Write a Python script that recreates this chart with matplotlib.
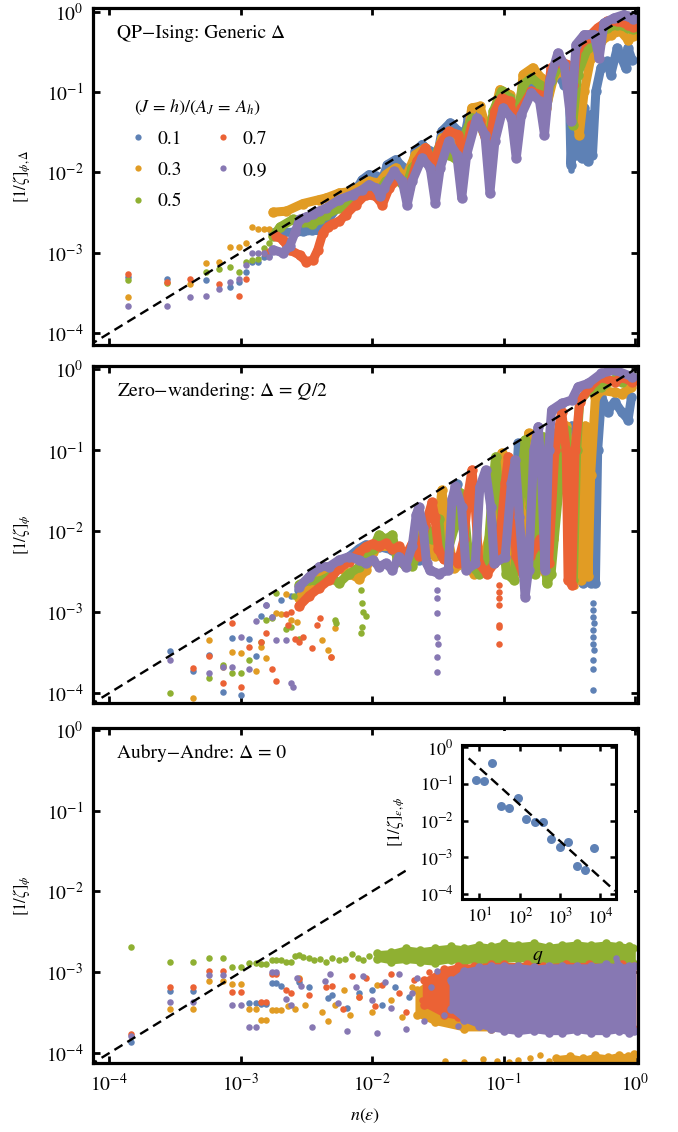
import numpy as np
import matplotlib.pyplot as plt
from matplotlib.lines import Line2D
from matplotlib.patches import Rectangle

plt.rcParams['font.family'] = ['STIXGeneral', 'Liberation Serif', 'DejaVu Sans']
plt.rcParams['mathtext.fontset'] = 'stix'

# Mathematica default palette
c_blue, c_orange, c_green, c_red, c_purple = '#5E81B5', '#E19C24', '#8FB032', '#EB6235', '#8778B3'
colors = [c_blue, c_orange, c_green, c_red, c_purple]
labels = ['0.1', '0.3', '0.5', '0.7', '0.9']

# guide line [1/zeta] = n
guide_n = [7.0e-5, 1.0]

# ---------------- panel 1: QP-Ising, generic Delta ----------------
p1_blue_dots = [(1.4e-4, 5.0e-4), (2.77e-4, 4.7e-4), (5.5e-4, 4.6e-4), (8.3e-4, 3.8e-4), (9.7e-4, 4.3e-4),
                (1.1e-3, 5.7e-4), (1.23e-3, 7.6e-4), (1.36e-3, 7.6e-4), (1.5e-3, 9.0e-4), (1.65e-3, 9.2e-4),
                (0.326, 1.07e-2)]
p1_blue_trace = [(1.77e-3, 1.75e-3), (2.1e-3, 1.8e-3), (2.5e-3, 1.8e-3), (3.0e-3, 1.85e-3), (3.5e-3, 1.9e-3),
                 (3.98e-3, 1.9e-3), (4.47e-3, 2.4e-3), (5.64e-3, 3.98e-3), (7.11e-3, 5.3e-3), (8.45e-3, 8.14e-3),
                 (9.5e-3, 9.4e-3), (1.07e-2, 8.96e-3), (1.16e-2, 7.06e-3), (1.31e-2, 1.25e-2), (1.51e-2, 1.44e-2),
                 (1.75e-2, 1.14e-2), (1.91e-2, 7.76e-3), (2.14e-2, 1.83e-2), (2.4e-2, 2.22e-2), (2.77e-2, 1.83e-2),
                 (3.03e-2, 1.14e-2), (3.4e-2, 3.25e-2), (3.93e-2, 4.13e-2), (4.54e-2, 3.25e-2), (4.81e-2, 1.83e-2),
                 (5.4e-2, 4.76e-2), (6.25e-2, 5.24e-2), (7.22e-2, 4.33e-2), (7.88e-2, 2.02e-2), (8.85e-2, 6.98e-2),
                 (0.102, 7.68e-2), (0.115, 6.34e-2), (0.125, 2.44e-2), (0.141, 9.29e-2), (0.163, 0.112),
                 (0.188, 9.29e-2), (0.205, 4.33e-2), (0.23, 0.136), (0.259, 0.165), (0.29, 0.124), (0.317, 0.102),
                 (0.326, 1.25e-2), (0.342, 6.34e-2), (0.358, 1.67e-2), (0.375, 4.76e-2), (0.393, 1.51e-2),
                 (0.411, 6.34e-2), (0.436, 1.38e-2), (0.461, 5.24e-2), (0.475, 1.67e-2), (0.504, 0.102),
                 (0.55, 0.2), (0.617, 0.241), (0.654, 0.165), (0.734, 0.353), (0.849, 0.2), (0.883, 0.353),
                 (0.95, 0.25)]
p1_orange_dots = [(1.4e-4, 2.8e-4), (4.15e-4, 4.1e-4), (5.5e-4, 7.4e-4), (6.9e-4, 7.6e-4), (8.3e-4, 1.17e-3),
                  (9.7e-4, 1.17e-3), (1.1e-3, 1.34e-3), (1.23e-3, 2.1e-3), (1.36e-3, 1.96e-3), (1.5e-3, 1.96e-3),
                  (1.65e-3, 1.96e-3)]
p1_orange_trace = [(1.77e-3, 3.2e-3), (2.23e-3, 3.3e-3), (2.98e-3, 4.1e-3), (3.98e-3, 4.6e-3), (4.47e-3, 4.82e-3),
                   (5.64e-3, 5.56e-3), (7.11e-3, 5.83e-3), (8.45e-3, 7.06e-3), (9.5e-3, 7.76e-3), (1.13e-2, 7.4e-3),
                   (1.27e-2, 9.4e-3), (1.51e-2, 1.14e-2), (1.8e-2, 8.54e-3), (2.14e-2, 1.67e-2), (2.55e-2, 2.02e-2),
                   (2.94e-2, 1.25e-2), (3.4e-2, 2.68e-2), (4.05e-2, 2.95e-2), (4.54e-2, 2.22e-2), (4.95e-2, 1.25e-2),
                   (5.73e-2, 6.34e-2), (6.62e-2, 6.65e-2), (7.66e-2, 2.95e-2), (8.35e-2, 4.76e-2), (9.38e-2, 0.107),
                   (0.112, 9.29e-2), (0.125, 2.44e-2), (0.141, 0.165), (0.167, 0.2), (0.194, 0.15),
                   (0.211, 6.34e-2), (0.244, 0.165), (0.29, 0.181), (0.336, 7.68e-2), (0.377, 2.95e-2),
                   (0.411, 0.102), (0.461, 0.265), (0.55, 0.428), (0.654, 0.518), (0.778, 0.57), (0.883, 0.449),
                   (0.97, 0.5)]
p1_green_dots = [(1.4e-4, 4.6e-4), (2.77e-4, 4.2e-4), (5.5e-4, 5.7e-4), (6.9e-4, 6.3e-4), (8.3e-4, 6.6e-4),
                 (9.7e-4, 5.7e-4), (1.1e-3, 7.6e-4), (1.23e-3, 8.2e-4), (1.36e-3, 8.3e-4), (1.5e-3, 1.14e-3),
                 (1.65e-3, 1.32e-3)]
p1_green_trace = [(1.77e-3, 1.6e-3), (2.0e-3, 2.1e-3), (2.5e-3, 2.6e-3), (3.0e-3, 2.4e-3), (3.5e-3, 2.3e-3),
                  (4.0e-3, 2.6e-3), (4.47e-3, 2.99e-3), (5.64e-3, 3.61e-3), (7.11e-3, 4.38e-3), (8.45e-3, 5.56e-3),
                  (9.78e-3, 6.41e-3), (1.13e-2, 5.83e-3), (1.27e-2, 7.76e-3), (1.51e-2, 8.54e-3), (1.8e-2, 6.41e-3),
                  (2.02e-2, 1.14e-2), (2.4e-2, 1.51e-2), (2.86e-2, 1.25e-2), (3.21e-2, 2.02e-2), (3.82e-2, 1.67e-2),
                  (4.54e-2, 1.38e-2), (4.95e-2, 2.68e-2), (5.73e-2, 4.76e-2), (6.62e-2, 3.94e-2), (7.66e-2, 2.22e-2),
                  (8.35e-2, 5.77e-2), (9.66e-2, 0.102), (0.112, 8.45e-2), (0.125, 4.76e-2), (0.141, 0.124),
                  (0.163, 0.15), (0.188, 0.124), (0.205, 6.34e-2), (0.23, 0.136), (0.274, 0.241), (0.308, 0.165),
                  (0.336, 3.94e-2), (0.366, 0.165), (0.436, 0.353), (0.519, 0.518), (0.617, 0.627), (0.734, 0.69),
                  (0.883, 0.627), (0.97, 0.6)]
p1_red_dots = [(1.4e-4, 5.4e-4), (2.77e-4, 4.4e-4), (4.15e-4, 4.7e-4), (6.9e-4, 4.1e-4), (9.7e-4, 2.9e-4),
               (1.1e-3, 4.7e-4), (1.5e-3, 1.0e-3), (1.65e-3, 1.05e-3)]
p1_red_trace = [(1.87e-3, 1.62e-3), (2.1e-3, 1.45e-3), (2.36e-3, 1.09e-3), (2.81e-3, 9.4e-4), (3.16e-3, 7.8e-4),
                (3.55e-3, 8.1e-4), (3.87e-3, 1.09e-3), (4.22e-3, 1.75e-3), (4.6e-3, 2.1e-3), (5.02e-3, 2.3e-3),
                (5.64e-3, 2.47e-3), (6.33e-3, 2.99e-3), (7.53e-3, 3.98e-3), (8.96e-3, 5.3e-3), (1.07e-2, 5.05e-3),
                (1.2e-2, 3.98e-3), (1.35e-2, 6.41e-3), (1.6e-2, 8.54e-3), (1.91e-2, 6.41e-3), (2.2e-2, 1.38e-2),
                (2.55e-2, 2.02e-2), (2.94e-2, 1.25e-2), (3.3e-2, 2.22e-2), (3.82e-2, 3.25e-2), (4.54e-2, 2.95e-2),
                (4.95e-2, 1.38e-2), (5.73e-2, 3.94e-2), (6.62e-2, 4.33e-2), (7.66e-2, 2.02e-2), (8.6e-2, 5.77e-2),
                (9.66e-2, 8.45e-2), (0.112, 7.68e-2), (0.125, 2.95e-2), (0.137, 6.34e-2), (0.163, 0.102),
                (0.188, 9.29e-2), (0.205, 4.76e-2), (0.23, 0.2), (0.274, 0.241), (0.308, 0.219), (0.336, 0.124),
                (0.366, 0.353), (0.436, 0.471), (0.519, 0.627), (0.617, 0.759), (0.734, 0.759), (0.883, 0.69),
                (0.97, 0.65)]
p1_purple_dots = [(1.4e-4, 2.2e-4), (2.77e-4, 2.2e-4), (4.15e-4, 2.8e-4), (5.5e-4, 2.9e-4), (6.9e-4, 3.5e-4),
                  (8.3e-4, 4.3e-4), (9.7e-4, 4.7e-4), (1.1e-3, 7.1e-4), (1.23e-3, 1.0e-3), (1.36e-3, 1.0e-3),
                  (1.5e-3, 9.9e-4), (1.65e-3, 9.0e-4)]
p1_purple_trace = [(1.77e-3, 1.09e-3), (2.1e-3, 1.0e-3), (2.36e-3, 1.2e-3), (2.6e-3, 1.8e-3), (2.81e-3, 2.6e-3),
                   (3.16e-3, 2.8e-3), (3.55e-3, 3.0e-3), (3.98e-3, 3.3e-3), (4.47e-3, 3.61e-3), (5.64e-3, 4.59e-3),
                   (7.11e-3, 5.3e-3), (8.45e-3, 6.11e-3), (9.5e-3, 7.06e-3), (1.07e-2, 6.41e-3), (1.16e-2, 5.05e-3),
                   (1.23e-2, 6.41e-3), (1.47e-2, 1.03e-2), (1.7e-2, 7.76e-3), (1.85e-2, 3.98e-3), (2.02e-2, 7.76e-3),
                   (2.4e-2, 1.51e-2), (2.77e-2, 1.14e-2), (3.03e-2, 4.17e-3), (3.3e-2, 1.14e-2), (3.82e-2, 2.44e-2),
                   (4.41e-2, 1.67e-2), (4.81e-2, 4.82e-3), (5.25e-2, 1.67e-2), (6.25e-2, 4.76e-2), (7.22e-2, 2.95e-2),
                   (7.88e-2, 5.56e-3), (8.6e-2, 2.44e-2), (9.94e-2, 6.34e-2), (0.115, 4.76e-2), (0.125, 1.51e-2),
                   (0.137, 5.24e-2), (0.163, 9.75e-2), (0.188, 7.68e-2), (0.205, 2.95e-2), (0.224, 0.136),
                   (0.259, 0.306), (0.29, 0.219), (0.326, 4.33e-2), (0.356, 0.389), (0.411, 0.518), (0.489, 0.518),
                   (0.534, 0.265), (0.582, 0.723), (0.693, 0.835), (0.824, 0.918), (0.883, 0.875), (0.97, 0.8)]

# ---------------- panel 2: zero-wandering ----------------
p2_blue_dots = [(2.9e-4, 3.3e-4), (4.35e-4, 1.9e-4), (5.75e-4, 3.0e-4), (7.3e-4, 1.02e-4), (8.65e-4, 4.8e-4),
                (1.01e-3, 9.5e-5), (1.16e-3, 4.7e-4), (1.3e-3, 2.9e-4), (1.43e-3, 9.1e-4), (1.56e-3, 1.23e-3),
                (1.74e-3, 8.8e-4), (2.03e-3, 1.43e-3), (2.4e-3, 1.6e-3),
                (0.48, 1.29e-3), (0.48, 1.07e-3), (0.48, 8.8e-4), (0.485, 7.3e-4), (0.48, 6.0e-4), (0.48, 5.0e-4),
                (0.48, 4.1e-4), (0.485, 3.4e-4), (0.48, 2.6e-4), (0.48, 2.0e-4), (0.48, 1.1e-4)]
p2_blue_trace = [(2.8e-3, 1.9e-3), (3.33e-3, 2.07e-3), (3.97e-3, 2.75e-3), (4.72e-3, 3.33e-3), (5.62e-3, 4.02e-3),
                 (6.7e-3, 4.86e-3), (7.97e-3, 6.1e-3), (8.95e-3, 6.8e-3), (1.13e-2, 6.46e-3), (1.43e-2, 5.87e-3),
                 (1.8e-2, 5.34e-3), (2.27e-2, 4.42e-3), (2.86e-2, 5.34e-3), (3.3e-2, 8.0e-3), (3.8e-2, 1.6e-2),
                 (4.4e-2, 3.8e-2), (4.8e-2, 1.5e-2), (5.3e-2, 4.0e-3), (6.5e-2, 3.5e-3), (8.0e-2, 4.5e-3),
                 (9.0e-2, 3.0e-2), (0.097, 7.5e-2), (0.105, 2.0e-2), (0.115, 6.0e-3), (0.125, 4.0e-2),
                 (0.13, 0.122), (0.14, 4.0e-2), (0.155, 4.0e-3), (0.19, 3.5e-3), (0.22, 8.0e-3), (0.25, 4.0e-2),
                 (0.29, 0.1), (0.33, 0.2), (0.36, 6.0e-2), (0.37, 5.87e-3), (0.40, 2.3e-3), (0.43, 5.5e-3),
                 (0.46, 2.3e-3), (0.49, 5.0e-3), (0.50, 2.3e-3), (0.52, 0.1), (0.556, 0.46), (0.62, 0.30),
                 (0.70, 0.40), (0.79, 0.30), (0.886, 0.24), (0.94, 0.45)]
p2_orange_dots = [(4.35e-4, 8.7e-5), (5.75e-4, 4.6e-4), (7.3e-4, 2.1e-4), (8.65e-4, 3.2e-4), (1.01e-3, 3.1e-4),
                  (1.3e-3, 1.9e-4), (1.43e-3, 3.7e-4), (1.56e-3, 2.7e-4), (1.86e-3, 9.7e-4), (2.03e-3, 9.5e-4),
                  (2.22e-3, 1.7e-3), (2.42e-3, 8.0e-4), (2.7e-3, 7.5e-4), (4.2e-3, 4.6e-4), (4.6e-3, 3.4e-4),
                  (4.9e-3, 2.8e-4), (5.2e-3, 6.3e-4), (0.35, 2.1e-3)]
p2_orange_trace = [(2.8e-3, 1.5e-3), (3.33e-3, 2.2e-3), (3.97e-3, 3.0e-3), (4.72e-3, 2.8e-3), (5.62e-3, 3.5e-3),
                   (6.7e-3, 3.0e-3), (7.97e-3, 2.6e-3), (8.95e-3, 3.3e-3), (1.01e-2, 5.5e-3), (1.13e-2, 6.5e-3),
                   (1.43e-2, 6.5e-3), (1.6e-2, 5.5e-3), (1.8e-2, 4.0e-3), (2.0e-2, 5.0e-3), (2.2e-2, 1.0e-2),
                   (2.45e-2, 1.4e-2), (2.7e-2, 6.0e-3), (3.0e-2, 5.0e-3), (3.4e-2, 3.2e-2), (3.7e-2, 1.0e-2),
                   (4.2e-2, 3.5e-3), (5.0e-2, 4.0e-3), (6.0e-2, 3.0e-3), (7.0e-2, 4.5e-3), (8.0e-2, 1.0e-2),
                   (0.092, 6.0e-2), (0.097, 9.2e-2), (0.105, 3.0e-2), (0.12, 3.5e-3), (0.14, 4.0e-3),
                   (0.155, 0.162), (0.165, 3.0e-2), (0.18, 4.0e-3), (0.21, 3.0e-3), (0.24, 8.0e-3), (0.26, 6.0e-2),
                   (0.30, 0.2), (0.33, 4.0e-2), (0.35, 4.0e-3), (0.39, 2.5e-3), (0.41, 7.6e-2), (0.42, 0.2),
                   (0.44, 2.8e-3), (0.46, 5.0e-2), (0.50, 0.45), (0.556, 0.55), (0.70, 0.52), (0.79, 0.5),
                   (0.94, 0.6)]
p2_green_dots = [(2.9e-4, 1.0e-4), (5.75e-4, 1.56e-4), (7.3e-4, 2.2e-4), (8.65e-4, 1.77e-4), (1.01e-3, 1.8e-4),
                 (1.16e-3, 2.6e-4), (1.43e-3, 4.3e-4), (1.56e-3, 8.0e-4), (1.74e-3, 8.5e-4), (1.86e-3, 1.75e-3),
                 (2.22e-3, 6.2e-4), (2.42e-3, 6.6e-4), (2.55e-3, 1.6e-3), (2.8e-3, 4.7e-4), (5.2e-3, 8.1e-4),
                 (5.3e-3, 7.3e-4), (8.2e-3, 1.9e-3), (8.4e-3, 1.3e-3), (8.6e-3, 1.0e-3), (9.0e-3, 9.0e-4),
                 (8.3e-3, 5.5e-4), (8.4e-3, 6.5e-4)]
p2_green_trace = [(2.8e-3, 2.2e-3), (3.33e-3, 2.5e-3), (3.97e-3, 2.4e-3), (4.72e-3, 2.75e-3), (5.62e-3, 2.3e-3),
                  (6.7e-3, 3.0e-3), (7.97e-3, 3.6e-3), (1.01e-2, 6.0e-3), (1.13e-2, 9.0e-3), (1.27e-2, 8.0e-3),
                  (1.43e-2, 9.0e-3), (1.55e-2, 4.5e-3), (1.8e-2, 3.7e-3), (2.02e-2, 3.7e-3), (2.27e-2, 6.0e-3),
                  (2.55e-2, 1.2e-2), (2.86e-2, 8.0e-3), (3.22e-2, 1.4e-2), (3.4e-2, 5.0e-3), (3.8e-2, 6.0e-3),
                  (4.3e-2, 1.2e-2), (4.7e-2, 3.0e-2), (5.0e-2, 2.0e-2), (5.5e-2, 4.0e-3), (6.5e-2, 3.0e-3),
                  (7.5e-2, 4.0e-3), (8.2e-2, 3.0e-2), (8.7e-2, 8.3e-2), (9.5e-2, 2.0e-2), (0.105, 3.0e-3),
                  (0.12, 2.5e-3), (0.135, 3.0e-2), (0.146, 0.134), (0.16, 2.0e-2), (0.175, 3.0e-3), (0.19, 4.0e-2),
                  (0.20, 0.147), (0.207, 2.0e-2), (0.213, 2.28e-3), (0.23, 3.0e-3), (0.27, 5.0e-2), (0.30, 0.18),
                  (0.33, 3.0e-2), (0.34, 2.5e-3), (0.36, 0.1), (0.38, 0.418), (0.45, 0.55), (0.55, 0.6),
                  (0.7, 0.75), (0.8, 0.7), (0.95, 0.8)]
p2_red_dots = [(4.35e-4, 2.04e-4), (5.75e-4, 2.85e-4), (7.3e-4, 1.33e-4), (8.65e-4, 7.45e-4), (1.01e-3, 1.2e-4),
               (1.16e-3, 3.7e-4), (1.43e-3, 4.3e-4), (1.56e-3, 5.5e-4), (1.74e-3, 2.0e-4), (1.86e-3, 1.4e-4),
               (2.22e-3, 9.5e-4), (2.3e-3, 7.0e-4), (2.42e-3, 1.0e-3), (2.6e-3, 4.7e-4), (2.8e-3, 4.3e-4),
               (3.0e-3, 5.0e-4), (3.5e-3, 3.6e-4), (3.8e-3, 7.0e-4), (4.0e-3, 8.5e-4), (4.9e-3, 2.8e-4),
               (0.092, 2.2e-3), (0.092, 1.8e-3), (0.092, 1.5e-3), (0.092, 1.23e-3), (0.092, 7.0e-4),
               (0.092, 6.5e-4), (0.092, 4.1e-4)]
p2_red_trace = [(2.8e-3, 1.2e-3), (3.33e-3, 1.6e-3), (3.97e-3, 2.0e-3), (4.72e-3, 2.5e-3), (5.62e-3, 3.5e-3),
                (6.7e-3, 4.2e-3), (7.97e-3, 5.5e-3), (8.95e-3, 6.46e-3), (1.01e-2, 7.0e-3), (1.13e-2, 6.5e-3),
                (1.27e-2, 7.1e-3), (1.43e-2, 6.0e-3), (1.6e-2, 6.5e-3), (1.8e-2, 5.0e-3), (2.02e-2, 7.0e-3),
                (2.27e-2, 5.0e-3), (2.55e-2, 1.2e-2), (2.86e-2, 2.27e-2), (3.0e-2, 1.5e-2), (3.2e-2, 6.0e-3),
                (3.5e-2, 4.5e-3), (4.0e-2, 5.0e-3), (4.5e-2, 4.0e-3), (5.0e-2, 8.0e-3), (5.4e-2, 3.0e-2),
                (5.76e-2, 5.7e-2), (6.1e-2, 2.0e-2), (6.5e-2, 4.0e-3), (7.5e-2, 3.0e-3), (8.5e-2, 4.0e-3),
                (9.5e-2, 1.0e-2), (0.103, 4.0e-2), (0.109, 8.3e-2), (0.114, 3.0e-2), (0.125, 5.0e-3),
                (0.14, 3.0e-3), (0.16, 5.0e-3), (0.19, 8.0e-3), (0.22, 4.0e-3), (0.246, 0.1), (0.277, 0.3),
                (0.30, 0.1), (0.31, 2.5e-3), (0.33, 2.2e-3), (0.35, 0.1), (0.38, 0.4), (0.45, 0.6), (0.55, 0.8),
                (0.7, 0.7), (0.8, 0.8), (0.95, 0.7)]
p2_purple_dots = [(2.9e-4, 2.6e-4), (5.75e-4, 1.77e-4), (7.3e-4, 2.1e-4), (8.65e-4, 2.1e-4), (1.01e-3, 5.0e-4),
                  (1.16e-3, 2.0e-4), (1.3e-3, 7.8e-4), (1.56e-3, 1.23e-3), (1.74e-3, 8.8e-4), (1.86e-3, 4.6e-4),
                  (2.2e-3, 4.6e-4), (2.42e-3, 1.33e-4), (2.5e-3, 1.2e-4),
                  (0.031, 1.88e-3), (0.031, 1.5e-3), (0.031, 9.7e-4), (0.031, 5.0e-4), (0.032, 4.0e-4),
                  (0.031, 2.8e-4), (0.031, 1.85e-4)]
p2_purple_trace = [(2.8e-3, 2.07e-3), (3.33e-3, 2.75e-3), (3.97e-3, 3.66e-3), (4.72e-3, 3.66e-3), (5.62e-3, 4.42e-3),
                   (6.7e-3, 4.86e-3), (7.97e-3, 4.42e-3), (8.95e-3, 4.02e-3), (1.01e-2, 4.42e-3), (1.13e-2, 3.66e-3),
                   (1.27e-2, 4.02e-3), (1.43e-2, 3.33e-3), (1.6e-2, 4.86e-3), (1.8e-2, 3.66e-3), (2.02e-2, 6.5e-3),
                   (2.17e-2, 1.6e-2), (2.27e-2, 2.0e-2), (2.45e-2, 1.1e-2), (2.6e-2, 4.0e-3), (2.75e-2, 3.3e-3),
                   (3.22e-2, 3.0e-3), (3.8e-2, 3.3e-3), (4.06e-2, 2.5e-2), (4.3e-2, 3.6e-2), (4.8e-2, 2.0e-2),
                   (5.2e-2, 3.3e-3), (6.1e-2, 4.0e-3), (6.6e-2, 3.5e-2), (7.3e-2, 5.7e-2), (8.0e-2, 2.0e-2),
                   (8.5e-2, 4.0e-3), (0.103, 4.86e-3), (0.115, 4.0e-2), (0.123, 7.6e-2), (0.132, 1.5e-2),
                   (0.146, 1.56e-3), (0.155, 3.33e-3), (0.17, 0.1), (0.184, 0.196), (0.195, 0.05), (0.207, 3.33e-3),
                   (0.22, 0.1), (0.232, 0.314), (0.277, 0.38), (0.33, 0.418), (0.37, 0.61), (0.441, 0.671),
                   (0.556, 0.891), (0.702, 0.98), (0.949, 0.811)]

# ---------------- panel 3: Aubry-Andre ----------------
p3_blue_dots = [(1.47e-4, 1.37e-4), (2.9e-4, 5.8e-4), (4.35e-4, 5.8e-4), (1.16e-3, 4.2e-4), (1.3e-3, 4.2e-4),
                (1.43e-3, 4.1e-4), (1.56e-3, 4.1e-4), (1.74e-3, 7.3e-4), (1.86e-3, 7.3e-4), (2.03e-3, 6.8e-4),
                (2.8e-3, 7.6e-4), (3.3e-3, 6.5e-4), (4.6e-3, 4.8e-4), (5.0e-3, 5.2e-4), (6.5e-3, 3.6e-4),
                (8.0e-3, 5.5e-4), (1.0e-2, 6.0e-4), (1.2e-2, 4.0e-4), (1.5e-2, 6.5e-4), (1.9e-2, 5.0e-4),
                (2.3e-2, 3.5e-4), (2.7e-2, 6.0e-4)]
p3_blue_band = [(0.03, 4.0e-4, 7.0e-4), (0.04, 3.5e-4, 8.0e-4), (0.055, 3.2e-4, 8.5e-4), (0.07, 3.0e-4, 8.0e-4),
                (0.1, 3.0e-4, 8.0e-4)]
p3_orange_dots = [(2.9e-4, 3.5e-4), (4.35e-4, 3.5e-4), (5.75e-4, 7.9e-4), (7.3e-4, 7.9e-4), (8.65e-4, 7.1e-4),
                  (1.01e-3, 7.1e-4), (1.16e-3, 3.5e-4), (1.3e-3, 3.5e-4), (1.43e-3, 2.6e-4), (1.56e-3, 2.6e-4),
                  (1.74e-3, 3.4e-4), (1.86e-3, 3.4e-4), (2.03e-3, 3.4e-4), (2.3e-3, 3.8e-4), (2.6e-3, 3.5e-4),
                  (2.8e-3, 8.5e-4), (3.1e-3, 4.0e-4), (4.2e-3, 3.2e-4), (4.6e-3, 2.5e-4), (5.2e-3, 4.0e-4),
                  (6.1e-3, 6.0e-4), (6.8e-3, 3.0e-4), (8.0e-3, 5.0e-4), (1.0e-2, 3.2e-4), (1.1e-2, 7.0e-4),
                  (1.4e-2, 4.5e-4), (1.7e-2, 2.8e-4), (2.0e-2, 6.5e-4), (2.4e-2, 3.0e-4), (2.8e-2, 4.5e-4),
                  (3.6e-2, 8.0e-5), (5.0e-2, 7.8e-5), (7.0e-2, 8.5e-5), (9.0e-2, 8.0e-5), (0.11, 7.8e-5),
                  (0.13, 8.2e-5), (0.16, 8.6e-5), (0.19, 9.5e-5), (0.22, 8.0e-5)]
p3_orange_band = [(0.022, 3.0e-4, 6.0e-4), (0.03, 2.4e-4, 8.5e-4), (0.05, 2.0e-4, 1.0e-3), (0.08, 2.0e-4, 1.0e-3),
                  (0.12, 2.0e-4, 9.5e-4), (0.2, 2.0e-4, 1.0e-3), (0.3, 2.0e-4, 9.5e-4)]
p3_orange_floor = [(0.25, 7.0e-5, 8.8e-5), (0.32, 7.0e-5, 9.2e-5), (0.4, 7.0e-5, 8.6e-5), (0.5, 7.0e-5, 9.4e-5),
                   (0.62, 7.0e-5, 9.0e-5), (0.75, 7.0e-5, 9.6e-5), (0.88, 7.0e-5, 9.2e-5), (0.98, 7.0e-5, 9.8e-5)]
p3_green_dots = [(1.47e-4, 2.05e-3), (2.9e-4, 1.36e-3), (4.35e-4, 1.36e-3), (5.75e-4, 1.5e-3), (7.3e-4, 1.5e-3),
                 (8.65e-4, 1.15e-3), (1.01e-3, 1.15e-3), (1.16e-3, 1.3e-3), (1.3e-3, 1.3e-3), (1.43e-3, 1.28e-3),
                 (1.56e-3, 1.28e-3), (1.74e-3, 1.4e-3), (1.86e-3, 1.4e-3), (2.03e-3, 1.4e-3), (2.22e-3, 1.33e-3),
                 (2.42e-3, 1.33e-3), (2.6e-3, 1.6e-3), (2.8e-3, 1.65e-3), (3.0e-3, 1.55e-3), (3.3e-3, 1.5e-3),
                 (3.6e-3, 1.4e-3), (4.0e-3, 1.45e-3), (4.5e-3, 1.35e-3), (5.0e-3, 1.5e-3), (5.6e-3, 1.4e-3),
                 (6.2e-3, 1.45e-3), (7.0e-3, 1.7e-3), (7.8e-3, 1.5e-3), (8.6e-3, 1.4e-3), (9.5e-3, 1.6e-3)]
p3_green_band = [(0.011, 1.45e-3, 1.75e-3), (0.014, 1.35e-3, 1.8e-3), (0.018, 1.4e-3, 2.0e-3), (0.023, 1.35e-3, 1.9e-3),
                 (0.03, 1.3e-3, 2.0e-3), (0.04, 1.4e-3, 2.1e-3), (0.05, 1.35e-3, 2.0e-3), (0.065, 1.4e-3, 2.2e-3),
                 (0.08, 1.3e-3, 2.1e-3), (0.1, 1.4e-3, 2.3e-3), (0.13, 1.45e-3, 2.2e-3), (0.17, 1.35e-3, 2.3e-3),
                 (0.22, 1.4e-3, 2.1e-3), (0.28, 1.3e-3, 2.2e-3), (0.36, 1.4e-3, 2.3e-3), (0.46, 1.35e-3, 2.2e-3),
                 (0.6, 1.3e-3, 2.3e-3), (0.75, 1.4e-3, 2.2e-3), (0.9, 1.35e-3, 2.1e-3), (0.97, 1.3e-3, 2.0e-3)]
p3_red_dots = [(1.47e-4, 1.74e-4), (2.9e-4, 6.55e-4), (4.35e-4, 6.55e-4), (5.75e-4, 1.05e-3), (7.3e-4, 1.05e-3),
               (8.65e-4, 5.7e-4), (1.01e-3, 5.7e-4), (1.43e-3, 4.35e-4), (1.56e-3, 4.35e-4), (1.74e-3, 9.6e-4),
               (1.86e-3, 9.6e-4), (2.22e-3, 6.0e-4), (2.4e-3, 5.6e-4), (2.8e-3, 8.3e-4), (3.3e-3, 5.2e-4),
               (4.5e-3, 6.5e-4), (5.0e-3, 6.8e-4), (6.0e-3, 3.5e-4), (7.0e-3, 9.0e-4), (8.0e-3, 5.0e-4),
               (9.0e-3, 8.5e-4), (1.05e-2, 3.8e-4), (1.2e-2, 7.0e-4), (1.4e-2, 9.5e-4), (1.6e-2, 5.5e-4),
               (1.8e-2, 3.2e-4), (2.1e-2, 8.0e-4), (2.4e-2, 4.5e-4), (2.7e-2, 1.0e-3)]
p3_red_band = [(0.025, 4.0e-4, 8.0e-4), (0.035, 3.0e-4, 1.1e-3), (0.045, 2.8e-4, 1.2e-3), (0.06, 2.6e-4, 1.2e-3),
               (0.08, 2.4e-4, 1.25e-3), (0.1, 2.2e-4, 1.25e-3), (0.15, 2.2e-4, 1.25e-3), (0.2, 2.0e-4, 1.2e-3),
               (0.3, 2.0e-4, 1.25e-3), (0.45, 2.0e-4, 1.25e-3), (0.6, 2.0e-4, 1.2e-3), (0.8, 2.0e-4, 1.25e-3),
               (0.98, 2.0e-4, 1.2e-3)]
p3_purple_dots = [(1.47e-4, 1.64e-4), (2.9e-4, 4.35e-4), (4.35e-4, 4.35e-4), (5.75e-4, 9.3e-4), (7.3e-4, 9.3e-4),
                  (8.65e-4, 3.9e-4), (1.01e-3, 3.9e-4), (1.16e-3, 2.1e-4), (1.3e-3, 2.1e-4), (1.74e-3, 1.0e-3),
                  (1.86e-3, 1.0e-3), (2.22e-3, 4.7e-4), (2.4e-3, 4.0e-4), (2.7e-3, 8.5e-4), (2.9e-3, 6.8e-4),
                  (3.5e-3, 2.1e-4), (4.4e-3, 7.8e-4), (4.8e-3, 9.5e-4), (5.5e-3, 4.2e-4), (6.5e-3, 1.9e-4),
                  (7.5e-3, 6.5e-4), (8.5e-3, 9.0e-4), (1.0e-2, 4.5e-4), (1.1e-2, 1.8e-4), (1.25e-2, 7.5e-4),
                  (1.4e-2, 3.6e-4), (1.6e-2, 9.5e-4), (1.8e-2, 2.0e-4), (2.0e-2, 5.5e-4), (2.2e-2, 8.5e-4),
                  (2.5e-2, 2.5e-4), (2.8e-2, 6.5e-4), (3.1e-2, 1.05e-3), (3.5e-2, 3.0e-4), (4.0e-2, 7.5e-4),
                  (4.5e-2, 2.2e-4), (5.0e-2, 9.5e-4), (5.5e-2, 4.0e-4), (0.72, 1.5e-3), (0.73, 1.35e-3)]
p3_purple_band = [(0.04, 3.5e-4, 8.0e-4), (0.05, 2.6e-4, 1.05e-3), (0.065, 2.2e-4, 1.15e-3), (0.08, 2.0e-4, 1.2e-3),
                  (0.1, 1.9e-4, 1.2e-3), (0.13, 1.8e-4, 1.2e-3), (0.17, 1.9e-4, 1.15e-3), (0.22, 1.8e-4, 1.2e-3),
                  (0.28, 1.8e-4, 1.2e-3), (0.36, 1.9e-4, 1.2e-3), (0.46, 1.8e-4, 1.2e-3), (0.6, 1.8e-4, 1.25e-3),
                  (0.75, 1.9e-4, 1.2e-3), (0.9, 1.8e-4, 1.2e-3), (0.98, 1.9e-4, 1.2e-3)]

# inset: Fibonacci denominators q and [1/zeta]_{eps,phi}
inset_q = [8, 13, 21, 34, 55, 89, 144, 233, 377, 610, 987, 1597, 2584, 4181, 6765]
inset_val = [0.128, 0.123, 0.38, 0.025, 0.022, 0.041, 0.011, 0.0089, 0.0089, 0.0031, 0.0019, 0.0026,
             5.8e-4, 4.5e-4, 1.8e-3]
inset_line_q = [5.4, 2.3e4]
inset_line_val = [0.5, 1.2e-4]

panel_text = ['QP\u2212Ising: Generic \u0394', 'Zero\u2212wandering: \u0394 = $Q$/2', 'Aubry\u2212Andre: \u0394 = 0']
panel_ylabel = [r'$[1/\zeta]_{\phi,\Delta}$', r'$[1/\zeta]_{\phi}$', r'$[1/\zeta]_{\phi}$']
panel_ylim = [(7.14e-5, 1.10), (7.5e-5, 1.10), (7.5e-5, 1.04)]
decades = [1e-4, 1e-3, 1e-2, 1e-1, 1e0]

fig = plt.figure(figsize=(6.78, 11.32), dpi=100)
L, W = 93 / 678, 544.5 / 678
ax1 = fig.add_axes([L, 1 - 345 / 1132, W, 336.7 / 1132])
ax2 = fig.add_axes([L, 1 - 703.3 / 1132, W, 337.3 / 1132])
ax3 = fig.add_axes([L, 1 - 1063.3 / 1132, W, 335 / 1132])
axes = [ax1, ax2, ax3]


def unzip(pairs):
    return [p[0] for p in pairs], [p[1] for p in pairs]


def draw(ax, dots, trace, color):
    # dense runs: a thick dotted band through the read points
    if trace:
        x, y = unzip(trace)
        ax.plot(x, y, color=color, lw=6.5, solid_capstyle='round', solid_joinstyle='round', zorder=2)
        ax.plot(x, y, ls='none', marker='o', ms=7.5, color=color, mec='none', zorder=2)
    if dots:
        x, y = unzip(dots)
        ax.scatter(x, y, s=22, color=color, linewidths=0, zorder=2)


def band(ax, rows, color):
    x = [r[0] for r in rows]
    lo = [r[1] for r in rows]
    hi = [r[2] for r in rows]
    ax.fill_between(x, lo, hi, facecolor=color, edgecolor=color, lw=3, joinstyle='round', zorder=2)
    ax.scatter(x + x, lo + hi, s=38, color=color, linewidths=0, zorder=2)


draw(ax1, p1_blue_dots, p1_blue_trace, c_blue)
draw(ax1, p1_orange_dots, p1_orange_trace, c_orange)
draw(ax1, p1_green_dots, p1_green_trace, c_green)
draw(ax1, p1_red_dots, p1_red_trace, c_red)
draw(ax1, p1_purple_dots, p1_purple_trace, c_purple)

draw(ax2, p2_blue_dots, p2_blue_trace, c_blue)
draw(ax2, p2_orange_dots, p2_orange_trace, c_orange)
draw(ax2, p2_green_dots, p2_green_trace, c_green)
draw(ax2, p2_red_dots, p2_red_trace, c_red)
draw(ax2, p2_purple_dots, p2_purple_trace, c_purple)

band(ax3, p3_blue_band, c_blue)
draw(ax3, p3_blue_dots, None, c_blue)
band(ax3, p3_orange_band, c_orange)
band(ax3, p3_orange_floor, c_orange)
draw(ax3, p3_orange_dots, None, c_orange)
band(ax3, p3_green_band, c_green)
draw(ax3, p3_green_dots, None, c_green)
band(ax3, p3_red_band, c_red)
draw(ax3, p3_red_dots, None, c_red)
band(ax3, p3_purple_band, c_purple)
draw(ax3, p3_purple_dots, None, c_purple)

for ax, txt, ylab, ylim in zip(axes, panel_text, panel_ylabel, panel_ylim):
    ax.plot(guide_n, guide_n, color='k', ls='--', lw=1.7, dashes=(4, 2.4), zorder=4)
    ax.set_xscale('log')
    ax.set_yscale('log')
    ax.set_xlim(7.55e-5, 1.045)
    ax.set_ylim(*ylim)
    ax.set_xticks(decades)
    ax.set_yticks(decades)
    ax.minorticks_off()
    ax.tick_params(which='major', direction='in', length=5, width=2, top=True, right=True,
                   labelsize=14, pad=7)
    for s in ax.spines.values():
        s.set_linewidth(2.3)
        s.set_zorder(6)
    ax.set_ylabel(ylab, fontsize=12)
    ax.yaxis.set_label_coords(-0.112, 0.5)
    ax.text(0.044, 0.925, txt, transform=ax.transAxes, fontsize=14, va='center', ha='left')

ax1.tick_params(labelbottom=False)
ax2.tick_params(labelbottom=False)
ax3.set_xlabel(r'$n(\epsilon)$', fontsize=13)
ax3.xaxis.set_label_coords(0.5, -0.13)

handles = [Line2D([], [], ls='none', marker='o', ms=4.5, color=c, mec='none') for c in colors]
ax1.legend(handles, labels, ncol=2, title=r'$(J\,=\,h)/(A_J\,=\,A_h)$', frameon=False,
           loc='upper left', bbox_to_anchor=(0.04, 0.775), fontsize=14, title_fontsize=13,
           handletextpad=0.5, columnspacing=1.6, labelspacing=0.7, handlelength=1.0, borderpad=0.2)

# white backing behind the inset, hides the guide line
ax3.add_patch(Rectangle((0.575, 0.413), 0.4186, 0.579, transform=ax3.transAxes,
                        facecolor='white', edgecolor='none', zorder=5))

ax_in = fig.add_axes([462 / 678, 1 - 899 / 1132, 153.5 / 678, 154 / 1132])
ax_in.scatter(inset_q, inset_val, s=42, color=c_blue, linewidths=0, zorder=3)
ax_in.plot(inset_line_q, inset_line_val, color='k', ls='--', lw=1.7, dashes=(4, 2.4), zorder=4)
ax_in.set_xscale('log')
ax_in.set_yscale('log')
ax_in.set_xlim(3.68, 2.37e4)
ax_in.set_ylim(7.2e-5, 1.156)
ax_in.set_xticks([1e1, 1e2, 1e3, 1e4])
ax_in.set_yticks(decades)
ax_in.minorticks_off()
ax_in.tick_params(which='major', direction='in', length=4, width=1.8, top=True, right=True,
                  labelsize=13, pad=6)
for s in ax_in.spines.values():
    s.set_linewidth(2.2)
ax_in.set_ylabel(r'$[1/\zeta]_{\epsilon,\phi}$', fontsize=12)
ax_in.yaxis.set_label_coords(-0.365, 0.5)
ax_in.text(0.495, -0.377, r'$q$', transform=ax_in.transAxes, fontsize=14, ha='center', va='center')

fig.savefig('out.png', dpi=100)
